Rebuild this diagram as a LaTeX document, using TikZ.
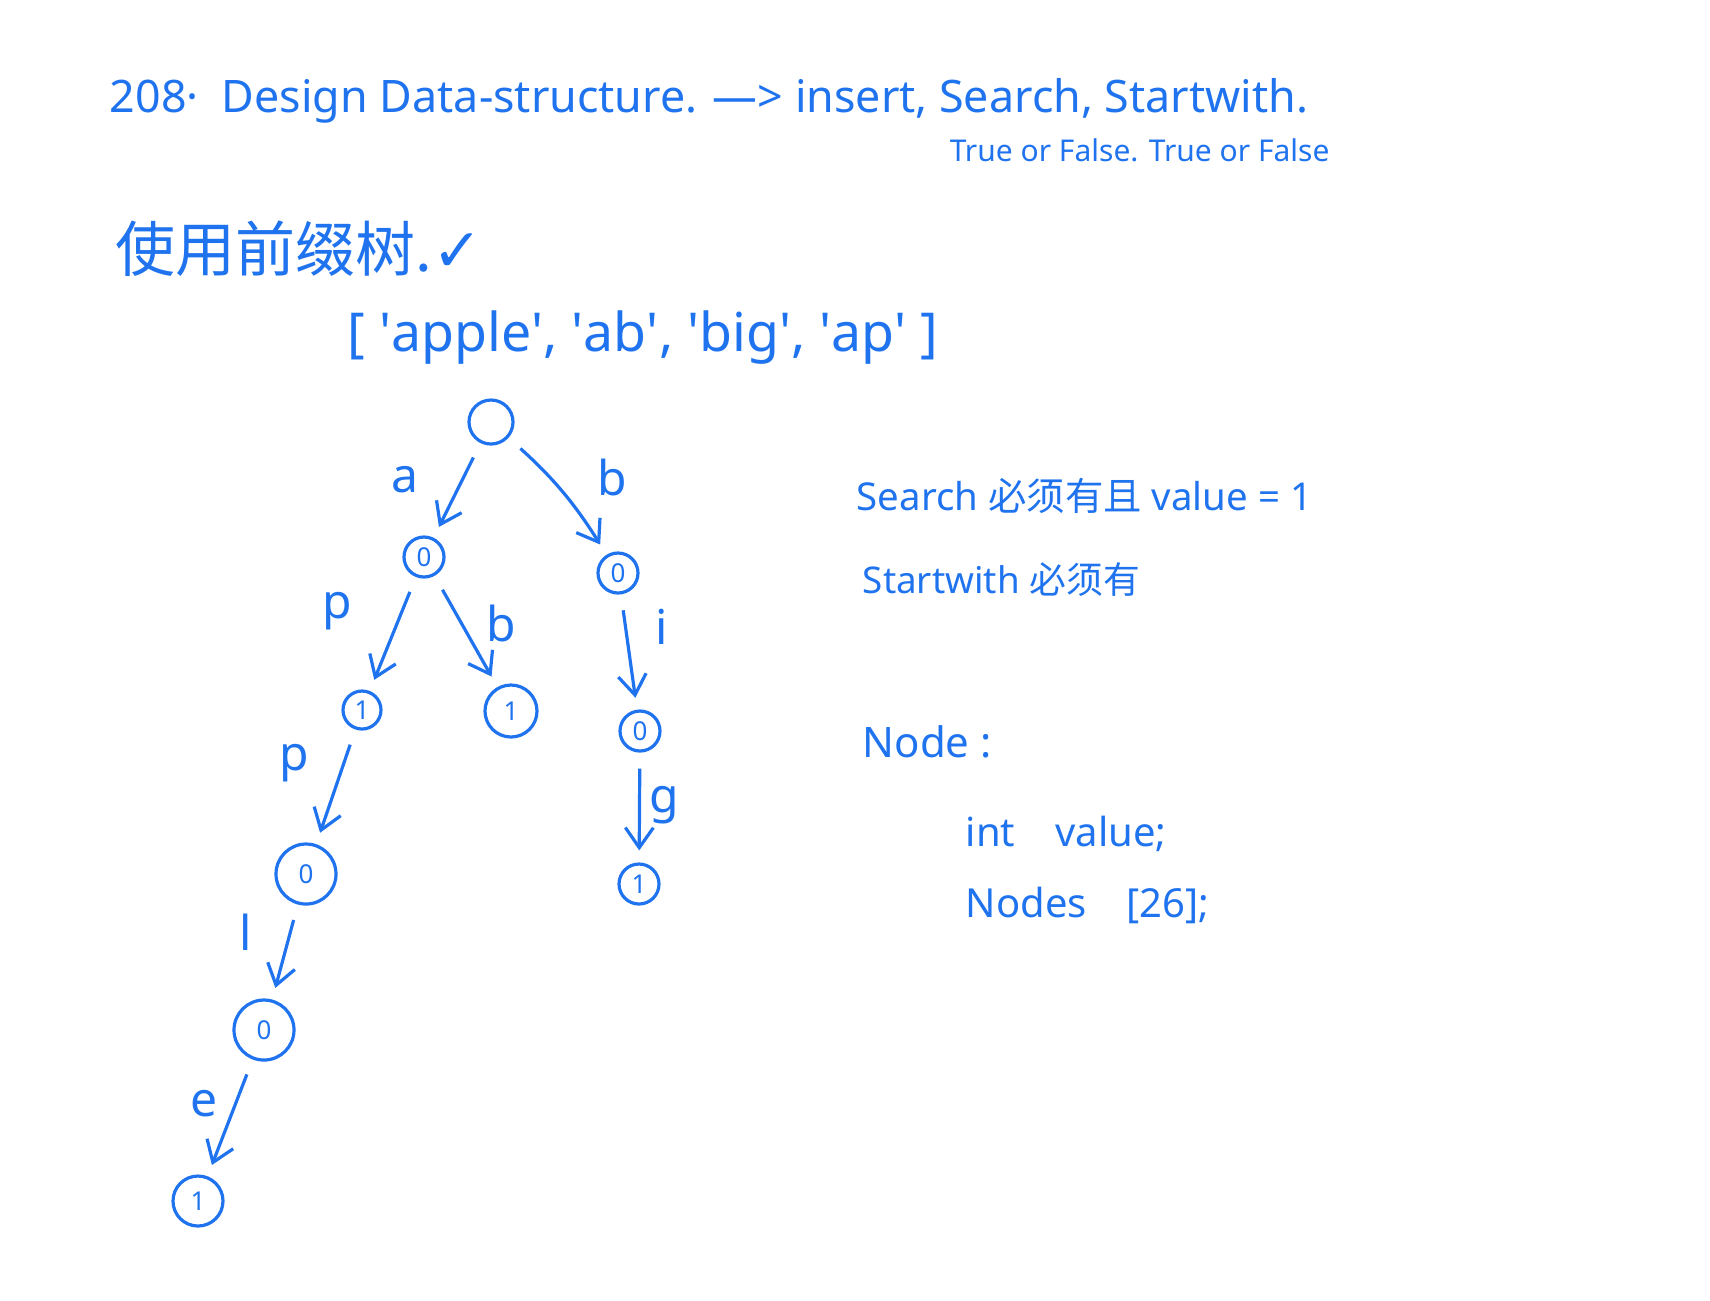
\documentclass[tikz,border=0pt]{standalone}
\usepackage{fontspec}
\setmainfont{Noto Sans}
\newfontfamily\cjk{Noto Sans CJK SC}
\newfontfamily\symfont{DejaVu Sans}
\newcommand{\q}{\textquotesingle}
\definecolor{ink}{HTML}{1F73EE}
\usetikzlibrary{arrows.meta, positioning}
\tikzset{
  trie/.style={
    circle, draw=ink, line width=0.8pt, inner sep=0pt,
    minimum size=#1, font=\fontsize{6.5}{7}\selectfont, text=ink
  },
  trie/.default=10pt,
  arr/.style={-{Straight Barb[length=5pt,width=7pt]}, line width=0.8pt, draw=ink,
    shorten <=4pt, shorten >=3pt},
  lbl/.style={font=\fontsize{12}{14}\selectfont, text=ink, inner sep=0pt},
  note/.style={font=\fontsize{#1}{#1}\selectfont, text=ink, inner sep=0pt},
  note/.default=10,
}
\begin{document}
\begin{tikzpicture}[x=0.25pt, y=-0.25pt]
  \useasboundingbox (0,0) rectangle (1710,1300);

  % Header
  \node[note=11.2, anchor=base west] (title) at (109,112)
    {208· \ Design Data-structure. —> insert, Search, Startwith.};
  \node[note=7.5, anchor=base west] (ret) at (949,161)
    {True or False. True or False};
  \node[note=15, anchor=west] (use) at (115,249)
    {\cjk 使用前缀树.{\symfont ✓}};
  \node[note=13.4] (words) at (643,338)
    {[ \q apple\q,\ \q ab\q,\ \q big\q,\ \q ap\q\ ]};

  % Trie
  \node[trie=11pt] (root) at (491,422) {};
  \node[trie] (na) at (424,557) {0};
  \node[trie] (nb) at (618,573) {0};
  \node[trie=9.5pt] (nap) at (362,710) {1};
  \node[trie=13pt] (nab) at (511,711) {1};
  \node[trie] (nbi) at (640,731) {0};
  \node[trie=15pt] (napp) at (306,874) {0};
  \node[trie] (nbig) at (639,884) {1};
  \node[trie=15pt] (nappl) at (264,1030) {0};
  \node[trie=12.5pt] (napple) at (198,1201) {1};

  \draw[arr] (root) -- (na);
  \draw[arr] (root) to[bend left=8] (nb);
  \draw[arr] (na) -- (nap);
  \draw[arr] (na) -- (nab);
  \draw[arr] (nb) -- (nbi);
  \draw[arr] (nap) -- (napp);
  \draw[arr] (nbi) -- (nbig);
  \draw[arr] (napp) -- (nappl);
  \draw[arr] (nappl) -- (napple);

  \node[lbl] (la) at (405,480) {a};
  \node[lbl] (lb) at (612,477) {b};
  \node[lbl] (lp) at (337,611) {p};
  \node[lbl] (lab) at (501,623) {b};
  \node[lbl] (li) at (662,627) {i};
  \node[lbl] (lpp) at (294,763) {p};
  \node[lbl] (lg) at (664,805) {g};
  \node[lbl] (ll) at (246,932) {l};
  \node[lbl] (le) at (204,1104) {e};

  % Notes
  \node[note=9.6, anchor=west] (search) at (856,496) {Search {\cjk 必须有且} value = 1};
  \node[note=9.2, anchor=west] (start) at (862,580) {Startwith {\cjk 必须有}};
  \node[note=10.5, anchor=west] (nd) at (862,742) {Node :};
  \node[note, anchor=west] (val) at (965,834) {int\quad value;};
  \node[note, anchor=west] (kids) at (965,905) {Nodes\quad [26];};
\end{tikzpicture}
\end{document}
